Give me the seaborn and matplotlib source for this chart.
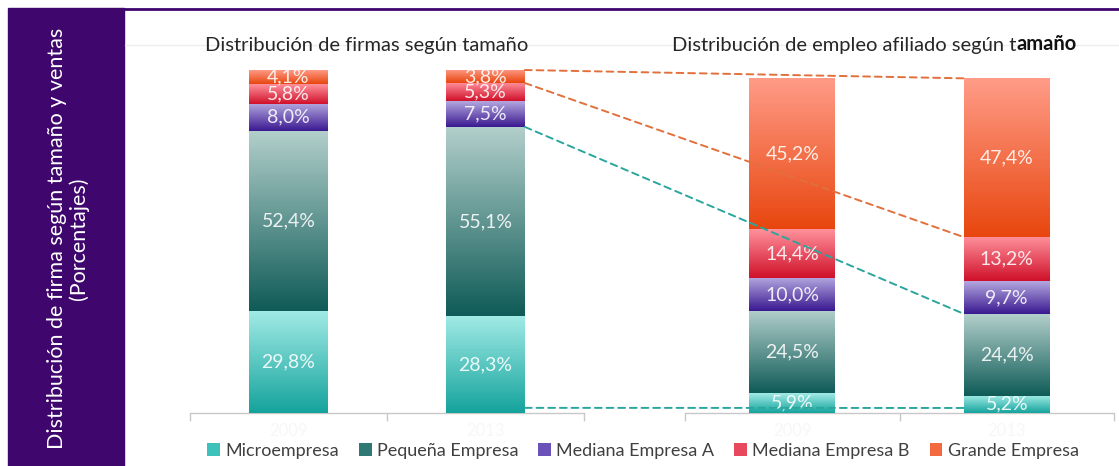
import numpy as np
import matplotlib.pyplot as plt
import seaborn as sns
from matplotlib.colors import LinearSegmentedColormap
from matplotlib.patches import ConnectionPatch, Patch, Rectangle
from matplotlib.lines import Line2D

# data (percentages)
years = ['2009', '2013']
sizes = ['Microempresa', 'Pequeña Empresa', 'Mediana Empresa A', 'Mediana Empresa B', 'Grande Empresa']
firmas_2009 = [29.8, 52.4, 8.0, 5.8, 4.1]
firmas_2013 = [28.3, 55.1, 7.5, 5.3, 3.8]
empleo_2009 = [5.9, 24.5, 10.0, 14.4, 45.2]
empleo_2013 = [5.2, 24.4, 9.7, 13.2, 47.4]

# gradient colors per size (top, bottom)
grad_top = ['#a3ebe6', '#b2cfcb', '#b4a8e0', '#ff929c', '#ff9c88']
grad_bot = ['#14a39c', '#0f5b57', '#3a1890', '#d0102a', '#e8460e']
legend_cols = ['#3cc2ba', '#2f7873', '#6a52b8', '#e8485c', '#f46a40']

# dashed links: (size index whose top is joined, color); last one sits near the base
links = [(4, '#e2703c'), (3, '#e2703c'), (1, '#2aa69d')]
base_link = 1.5
purple = '#3f066e'

sns.set_theme(style='white')
plt.rcParams['font.family'] = ['Lato', 'DejaVu Sans']

fig = plt.figure(figsize=(11.19, 4.66), dpi=100)
W, H = 1119, 466
ax1 = fig.add_axes([190 / W, 53 / H, 394 / W, 343 / H])
ax2 = fig.add_axes([685 / W, 53 / H, 429 / W, 335 / H])


def draw_panel(ax, values):
    vals = np.array(values)          # rows: years, cols: sizes
    cum = vals.cumsum(axis=1)
    segs = {}
    # seaborn stacked bars: draw cumulative totals from the top layer down
    for k in range(len(sizes) - 1, -1, -1):
        n0 = len(ax.patches)
        sns.barplot(x=years, y=cum[:, k], color='white', width=0.4,
                    saturation=1, errorbar=None, edgecolor='none', ax=ax)
        segs[k] = ax.patches[n0:]
    for k in range(len(sizes)):
        cmap = LinearSegmentedColormap.from_list('g%d' % k, [grad_bot[k], grad_top[k]])
        grad = np.linspace(0, 1, 256).reshape(-1, 1)
        for i, p in enumerate(segs[k]):
            x0, w = p.get_x(), p.get_width()
            y1 = cum[i, k]
            y0 = y1 - vals[i, k]
            ax.imshow(grad, extent=(x0, x0 + w, y0, y1), origin='lower',
                      cmap=cmap, aspect='auto', zorder=3, interpolation='bilinear')
            ax.text(x0 + w / 2, (y0 + y1) / 2, f'{vals[i, k]:.1f}%'.replace('.', ','),
                    ha='center', va='center', color='white', fontsize=14,
                    alpha=0.88, zorder=4)
    ax.set_xlim(-0.5, 1.5)
    ax.set_ylim(0, 100)
    ax.set_yticks([])
    ax.set_xticks([-0.5, 0.5, 1.5])
    ax.set_xticklabels([])
    ax.set_xticks([0, 1], minor=True)
    ax.set_xticklabels(years, minor=True, color='#f7f7f7', fontsize=12)
    ax.tick_params(axis='x', which='major', bottom=True, length=6, width=1, color='#c8c8c8')
    ax.tick_params(axis='x', which='minor', bottom=False, pad=3)
    for s in ['top', 'left', 'right']:
        ax.spines[s].set_visible(False)
    ax.spines['bottom'].set_color('#c8c8c8')
    ax.spines['bottom'].set_linewidth(1)
    ax.set_xlabel('')
    ax.patch.set_visible(False)
    return cum


cum1 = draw_panel(ax1, [firmas_2009, firmas_2013])
cum2 = draw_panel(ax2, [empleo_2009, empleo_2013])

# dashed connectors between the 2013 bars
for k, col in links:
    con = ConnectionPatch(xyA=(1.2, cum1[1, k]), coordsA=ax1.transData,
                          xyB=(0.8, cum2[1, k]), coordsB=ax2.transData,
                          color=col, lw=1.4, linestyle=(0, (3.5, 2.5)), zorder=6)
    fig.add_artist(con)
con = ConnectionPatch(xyA=(1.2, base_link), coordsA=ax1.transData,
                      xyB=(0.8, base_link), coordsB=ax2.transData,
                      color='#2aa69d', lw=1.4, linestyle=(0, (3.5, 2.5)), zorder=6)
fig.add_artist(con)

# side panel and frame
fig.add_artist(Rectangle((8 / W, 0), 116 / W, 1 - 8 / H, transform=fig.transFigure,
                         color=purple, zorder=0))
fig.add_artist(Line2D([122 / W, 1], [1 - 9 / H, 1 - 9 / H], transform=fig.transFigure,
                      color=purple, lw=2))
fig.add_artist(Line2D([125 / W, 1], [1 - 45 / H, 1 - 45 / H], transform=fig.transFigure,
                      color='#eeeeee', lw=1, zorder=0))
fig.text(68 / W, 0.488, 'Distribución de firma según tamaño y ventas\n(Porcentajes)',
         rotation=90, ha='center', va='center', color='white', fontsize=15.5,
         multialignment='center', linespacing=1.1)

# titles
fig.text(367 / W, 1 - 45 / H, 'Distribución de firmas según tamaño', ha='center',
         va='center', fontsize=14.5, color='#262626')
t = fig.text(672 / W, 1 - 45 / H, 'Distribución de empleo afiliado según t', ha='left',
             va='center', fontsize=14.5, color='#262626')
plt.annotate('amaño', xy=(1, 0), xycoords=t, ha='left', va='bottom', fontsize=14.5,
             weight='bold', color='#111111', annotation_clip=False)

# legend
handles = [Patch(facecolor=c, edgecolor='none') for c in legend_cols]
fig.legend(handles, sizes, loc='center', bbox_to_anchor=(643 / W, 1 - 451 / H), ncol=5,
           frameon=False, handlelength=0.7, handleheight=0.7, handletextpad=0.3,
           columnspacing=1.1, fontsize=13, labelcolor='#404040')

fig.savefig('out.png', dpi=100)
